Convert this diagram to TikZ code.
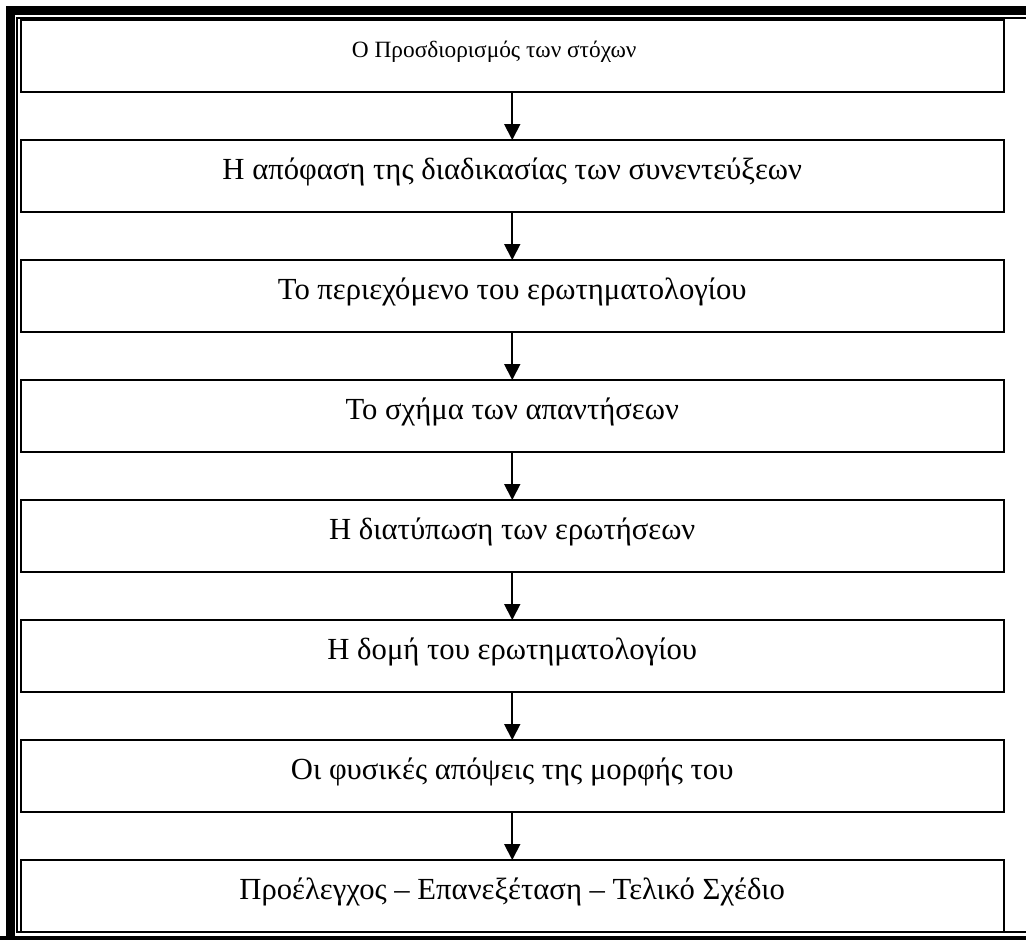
\documentclass[tikz,border=0pt]{standalone}
\usepackage{fontspec}
\setmainfont{Liberation Serif}
\usetikzlibrary{positioning,arrows.meta}

\tikzset{
  stage/.style={draw, line width=1.5pt, outer sep=0pt, inner sep=0pt,
    minimum width=737.6pt, minimum height=54pt,
    font=\fontsize{23}{27}\selectfont, text height=9pt, text depth=4.5pt},
  flow/.style={line width=1.4pt, -{Triangle[width=12pt,length=12pt]}},
}

\begin{document}
\begin{tikzpicture}[x=0.75pt, y=-0.75pt, node distance=36pt]
\useasboundingbox (0,0) rectangle (1026,940);
\clip (0,0) rectangle (1026,940);
%% page border (thick + thin)
\draw[line width=6.75pt] (10.5,960) -- (10.5,10) -- (1040,10);
\draw[line width=6.75pt] (0,940.5) -- (1040,940.5);
\draw[line width=1.5pt] (1040,932) -- (17,932) -- (17,17.5) -- (1040,17.5);
%% the stages
\node[stage, font=\fontsize{17.5}{21}\selectfont, text height=8pt, text depth=5.75pt] (s1) at (512.25,56) {Ο Προσδιορισμός των στόχων\hspace*{27pt}};
\node[stage, below=of s1] (s2) {Η απόφαση της διαδικασίας των συνεντεύξεων};
\node[stage, below=of s2] (s3) {Το περιεχόμενο του ερωτηματολογίου};
\node[stage, below=of s3] (s4) {Το σχήμα των απαντήσεων};
\node[stage, below=of s4] (s5) {Η διατύπωση των ερωτήσεων};
\node[stage, below=of s5] (s6) {Η δομή του ερωτηματολογίου};
\node[stage, below=of s6] (s7) {Οι φυσικές απόψεις της μορφής του};
\node[stage, below=of s7] (s8) {Προέλεγχος – Επανεξέταση – Τελικό Σχέδιο};
%% arrows
\foreach \a/\b in {s1/s2,s2/s3,s3/s4,s4/s5,s5/s6,s6/s7,s7/s8}
  \draw[flow] (\a) -- (\b);
\end{tikzpicture}
\end{document}
